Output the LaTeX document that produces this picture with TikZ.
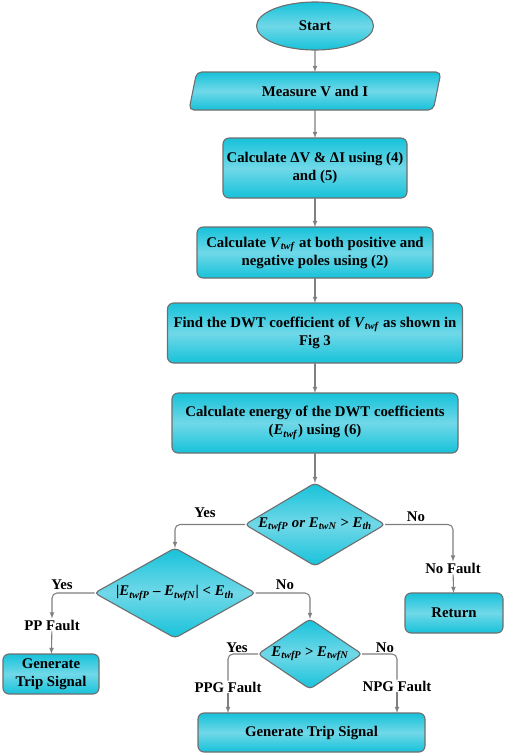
\documentclass[tikz,border=0pt]{standalone}
\usepackage{fontspec}
\setmainfont{Liberation Serif}
\usetikzlibrary{positioning}
\usetikzlibrary{arrows}
\usetikzlibrary{shapes.geometric}
\definecolor{aqua}{RGB}{22,194,218}
\definecolor{aqualight}{RGB}{112,216,232}
\definecolor{rim}{RGB}{110,110,110}
\definecolor{linegray}{RGB}{128,128,128}
\newcommand{\sym}[2]{\textit{#1}\textsubscript{\textit{#2}}}

\begin{document}
\begin{tikzpicture}[
    x=1pt, y=-1pt,
    >=latex,
    % node styles
    base/.style = {
      draw=rim,
      line width=1.1pt,
      top color=aqua,
      bottom color=aqua,
      middle color=aqualight,
      align=center,
      outer sep=0pt,
      inner sep=2pt,
      font=\bfseries\fontsize{14.8}{18}\selectfont
    },
    box/.style = {base, rectangle, rounded corners=6pt},
    term/.style = {base, ellipse},
    io/.style = {
      base,
      trapezium,
      trapezium left angle=62,
      trapezium right angle=118,
      trapezium stretches body,
      rounded corners=5pt
    },
    dec/.style = {base, diamond, rounded corners=4pt, inner sep=0pt},
    lbl/.style = {font=\bfseries\fontsize{14.8}{18}\selectfont, inner sep=1pt},
    % arrow styles
    arr/.style = {->, line width=1.1pt, draw=linegray, rounded corners=5pt},
    seg/.style = {-, line width=1.1pt, draw=linegray, rounded corners=5pt}
  ]
  \useasboundingbox (0,0) rectangle (505,755);

  % --- Main column
  \node[term, minimum width=117pt, minimum height=48pt] (start) at (315,26) {Start};
  \node[io, minimum width=252pt, minimum height=38pt, below=22pt of start] (measure) {Measure V and I};
  \node[box, minimum width=184pt, minimum height=60pt, below=28pt of measure] (delta)
    {Calculate ΔV \& ΔI using (4)\\and (5)};
  \node[box, minimum width=236pt, minimum height=51pt, below=29pt of delta] (vtwf)
    {Calculate \sym{V}{twf} at both positive and\\negative poles using (2)};
  \node[box, minimum width=295pt, minimum height=60pt, below=25pt of vtwf] (dwt)
    {Find the DWT coefficient of \sym{V}{twf} as shown in\\Fig 3};
  \node[box, minimum width=286pt, minimum height=60pt, below=30pt of dwt] (energy)
    {Calculate energy of the DWT coefficients\\(\sym{E}{twf}) using (6)};
  \node[dec, aspect=1.69, minimum width=140pt, minimum height=83pt, below=30pt of energy] (chkE)
    {\sym{E}{twfP} \textit{or} \sym{E}{twN} > \sym{E}{th}};

  % --- Branches
  \node[lbl] (nofault) at (453,568) {No Fault};
  \node[box, minimum width=98pt, minimum height=40pt] (ret) at (454,613) {Return};

  \node[dec, aspect=1.79, minimum width=161pt, minimum height=90pt] (chkPP) at (175,593)
    {|\sym{E}{twfP} – \sym{E}{twfN}| < \sym{E}{th}};
  \node[lbl] (ppfault) at (52,625) {PP Fault};
  \node[box, minimum width=96pt, minimum height=40pt] (trip1) at (51,674) {Generate\\Trip Signal};

  \node[dec, aspect=1.49, minimum width=104pt, minimum height=70pt] (chkPN) at (310,654)
    {\sym{E}{twfP} > \sym{E}{twfN}};
  \node[lbl] (ppg) at (228,687) {PPG Fault};
  \node[lbl] (npg) at (397,686) {NPG Fault};
  \node[box, minimum width=227pt, minimum height=39pt] (trip2) at (311.5,732.5) {Generate Trip Signal};

  % --- Yes / No labels
  \node[lbl] (yes1) at (205,513) {Yes};
  \node[lbl] (no1) at (416,517) {No};
  \node[lbl] (yes2) at (62,585) {Yes};
  \node[lbl] (no2) at (285,585) {No};
  \node[lbl] (yes3) at (237,648) {Yes};
  \node[lbl] (no3) at (385,648) {No};

  % --- Arrows
  \draw[arr] (start) -- (measure);
  \draw[arr] (measure) -- (delta);
  \draw[arr] (delta) -- (vtwf);
  \draw[arr] (vtwf) -- (dwt);
  \draw[arr] (dwt) -- (energy);
  \draw[arr] (energy) -- (chkE);

  \draw[arr] (chkE.east) -| (nofault.north);
  \draw[arr] (nofault) -- (ret);
  \draw[arr] (chkE.west) -| (chkPP.north);
  \draw[arr] (chkPP.west) -| (ppfault.north);
  \draw[arr] (ppfault) -- (trip1);
  \draw[arr] (chkPP.east) -| (chkPN.north);

  % Fault labels sit on the lines
  \draw[seg] (chkPN.west) -| (ppg.north);
  \draw[arr] (ppg.south) -- (ppg.south |- trip2.north);
  \draw[seg] (chkPN.east) -| (npg.north);
  \draw[arr] (npg.south) -- (npg.south |- trip2.north);
\end{tikzpicture}
\end{document}
